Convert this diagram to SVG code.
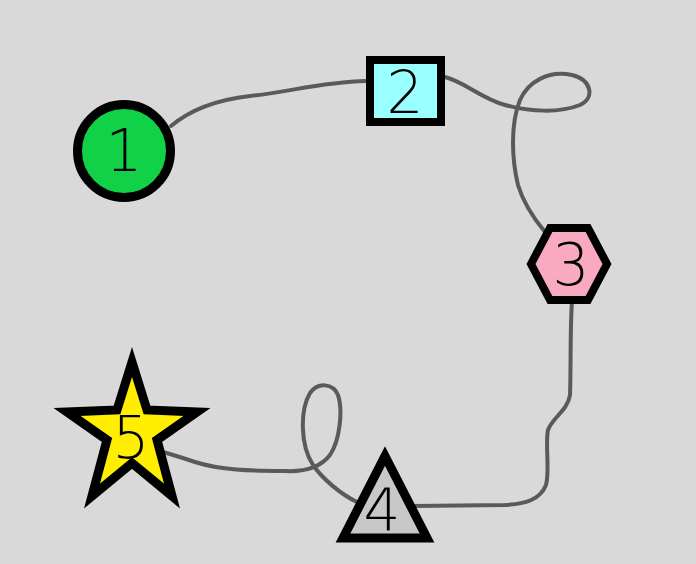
<svg xmlns="http://www.w3.org/2000/svg" width="696" height="564" viewBox="0 0 696 564">
<style>
.edge{fill:none;stroke:#5a5a5a;stroke-width:4;stroke-linecap:round;stroke-linejoin:round}
.shape{stroke:#000;stroke-linejoin:miter}
.lbl{font-family:"DejaVu Sans","Liberation Sans",sans-serif;font-weight:200;font-size:58px;fill:#000;text-anchor:middle}
</style>
<rect width="696" height="564" fill="#d9d9d9"/>
<g id="connectors">
<path class="edge" d="M171,126 C190,110 215,100 250,96 C290,92 320,82 366,81"/>
<path class="edge" d="M445,77 C465,82 480,98 505,105 C530,112 560,113 580,105 C595,98 592,80 572,75 C548,70 528,82 520,100 C510,125 512,160 518,185 C524,205 535,220 545,232"/>
<path class="edge" d="M572,301 C570,330 571,370 570,395 C568,410 552,418 548,430 C545,445 550,470 546,485 C540,500 525,504 505,505 L413,506"/>
<path class="edge" d="M357,502 C340,494 322,478 313,465 C300,445 300,410 310,393 C318,382 333,383 338,395 C343,410 340,440 330,455 C320,468 305,472 285,471 C250,471 220,470 195,462 C180,457 170,454 163,452"/>
</g>
<g id="node1">
<circle class="shape" cx="124" cy="151" r="46.5" fill="#11d147" stroke-width="9"/>
<text class="lbl" x="124" y="171">1</text>
</g>
<g id="node2">
<rect class="shape" x="370" y="60" width="71" height="62" fill="#99ffff" stroke-width="8"/>
<text class="lbl" x="405" y="113">2</text>
</g>
<g id="node3">
<polygon class="shape" points="531,264 550,228 588,228 607,264 588,300 550,300" fill="#f9aac0" stroke-width="8"/>
<text class="lbl" x="571" y="285">3</text>
</g>
<g id="node4">
<polygon class="shape" points="385,456 343,538 427,538" fill="#c8c8c8" stroke-width="9"/>
<text class="lbl" x="382" y="530">4</text>
</g>
<g id="node5">
<polygon class="shape" points="132,362 147,410 197,412 157,440 172,496 132,463 92,496 107,440 67,412 117,410" fill="#ffee00" stroke-width="9"/>
<text class="lbl" x="131" y="458">5</text>
</g>
</svg>
